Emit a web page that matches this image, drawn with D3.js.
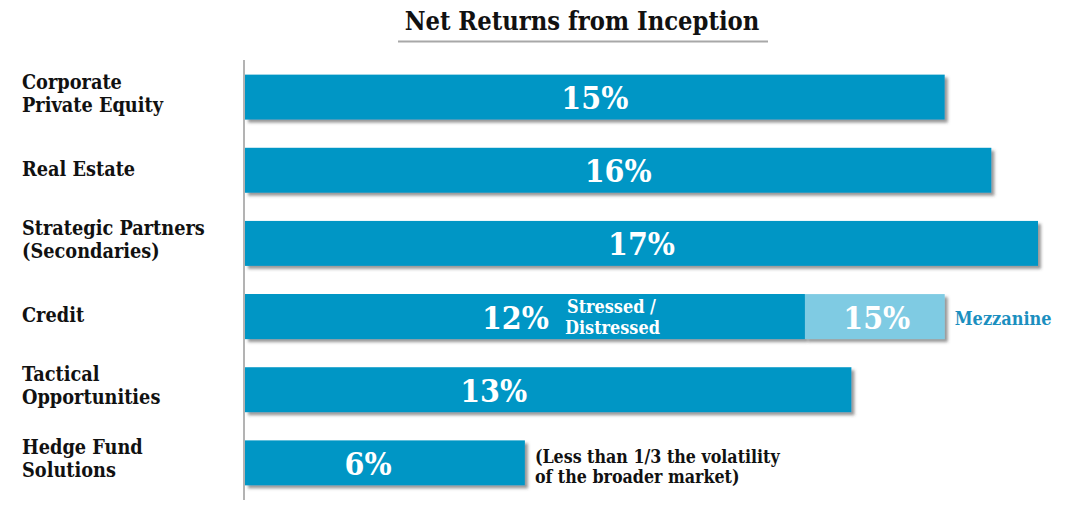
<!DOCTYPE html>
<html><head><meta charset="utf-8">
<script src="https://cdn.jsdelivr.net/npm/d3@7"></script>
<style>html,body{margin:0;padding:0;background:#fff;}svg{display:block;}</style>
</head><body>
<svg id="chart" width="1076" height="511"></svg>
<script>
// ---- data ----
const title = "Net Returns from Inception";
const categories = [
  ["Corporate", "Private Equity"],
  ["Real Estate"],
  ["Strategic Partners", "(Secondaries)"],
  ["Credit"],
  ["Tactical", "Opportunities"],
  ["Hedge Fund", "Solutions"]
];
const returns = [15, 16, 17, 12, 13, 6];          // main bar value (%)
const mezzanineReturn = 15;                        // Credit: mezzanine (%)
const creditLabels = ["Stressed /", "Distressed"];
const mezzanineLabel = "Mezzanine";
const hedgeNote = ["(Less than 1/3 the volatility", "of the broader market)"];

// ---- layout ----
const FONT = "'DejaVu Serif Condensed', 'DejaVu Serif', Georgia, serif";
const blue = "#0096c5", lightBlue = "#7fcbe3", mezzBlue = "#1b8fbf";
const labelAt = [0.5, 0.5, 0.5, 0.483, 0.41, 0.44]; // fraction of bar length for value label centre

const svg = d3.select("#chart");
const keys = categories.map((c, i) => i);
const x = d3.scaleLinear().domain([0, 17]).range([245, 1038]);
const y = d3.scaleBand().domain(keys).range([60, 500]).paddingInner(0.385).paddingOuter(0.2);

const defs = svg.append("defs");
const f = defs.append("filter").attr("id", "sh").attr("x", "-5%").attr("y", "-20%").attr("width", "115%").attr("height", "150%");
f.append("feDropShadow").attr("dx", 3).attr("dy", 3).attr("stdDeviation", 1.6)
  .attr("flood-color", "#444").attr("flood-opacity", 0.55);

function fit(sel, target) {
  const w = sel.node().getComputedTextLength();
  const fs = parseFloat(sel.attr("font-size"));
  sel.attr("font-size", fs * target / w);
  return fs * target / w;
}

// title
const t = svg.append("text").attr("x", 582).attr("y", 30).attr("text-anchor", "middle")
  .attr("font-family", FONT).attr("font-weight", "bold").attr("font-size", 24).attr("fill", "#111").text(title);
fit(t, 355);
svg.append("line").attr("x1", 398).attr("x2", 768).attr("y1", 41.5).attr("y2", 41.5)
  .attr("stroke", "#a8a8a8").attr("stroke-width", 2);

// axis
svg.append("line").attr("x1", 244).attr("x2", 244).attr("y1", 60).attr("y2", 500)
  .attr("stroke", "#9a9a9a").attr("stroke-width", 1.5);

// category font size fitted on a reference line
const probe = svg.append("text").attr("font-family", FONT).attr("font-weight", "bold").attr("font-size", 18).text("Strategic Partners");
const catFS = fit(probe, 183);
probe.remove();

// bars
const g = svg.append("g");
g.selectAll("rect.main").data(returns).join("rect").attr("class", "main")
  .attr("x", x(0)).attr("y", (d, i) => y(i)).attr("width", d => x(d) - x(0)).attr("height", y.bandwidth())
  .attr("fill", blue).attr("filter", "url(#sh)");
// credit mezzanine extension
const ci = 3;
g.append("rect").attr("x", x(returns[ci])).attr("y", y(ci)).attr("width", x(mezzanineReturn) - x(returns[ci]))
  .attr("height", y.bandwidth()).attr("fill", lightBlue).attr("filter", "url(#sh)");
g.append("rect").attr("x", x(0)).attr("y", y(ci)).attr("width", x(returns[ci]) - x(0))
  .attr("height", y.bandwidth()).attr("fill", blue);

// category labels
svg.selectAll("text.cat").data(categories).join("text").attr("class", "cat")
  .attr("font-family", FONT).attr("font-weight", "bold").attr("font-size", catFS).attr("fill", "#111")
  .each(function(lines, i) {
    const c = y(i) + y.bandwidth() / 2;
    const base = lines.length === 1 ? c + 5.5 : c - 8.5;
    d3.select(this).selectAll("tspan").data(lines).join("tspan")
      .attr("x", 22).attr("y", (l, j) => base + j * 23).text(l => l);
  });

// value labels
const pctProbe = svg.append("text").attr("font-family", FONT).attr("font-weight", "bold").attr("font-size", 30).text("15%");
const pctFS = fit(pctProbe, 67);
pctProbe.remove();
svg.selectAll("text.val").data(returns).join("text").attr("class", "val")
  .attr("x", (d, i) => x(0) + (x(d) - x(0)) * labelAt[i]).attr("y", (d, i) => y(i) + y.bandwidth() / 2 + 12)
  .attr("text-anchor", "middle").attr("font-family", FONT).attr("font-weight", "bold")
  .attr("font-size", pctFS).attr("fill", "#fff").text(d => d + "%");
svg.append("text").attr("x", (x(returns[ci]) + x(mezzanineReturn)) / 2 + 2).attr("y", y(ci) + y.bandwidth() / 2 + 12)
  .attr("text-anchor", "middle").attr("font-family", FONT).attr("font-weight", "bold")
  .attr("font-size", pctFS).attr("fill", "#fff").text(mezzanineReturn + "%");

// credit sub labels
const cc = y(ci) + y.bandwidth() / 2;
const st = svg.append("text").attr("font-family", FONT).attr("font-weight", "bold").attr("font-size", 16).attr("fill", "#fff");
st.selectAll("tspan").data(creditLabels).join("tspan").attr("x", (d, j) => j ? 565 : 567)
  .attr("y", (d, j) => cc - 4 + j * 21).text(d => d);
const stp = svg.append("text").attr("font-family", FONT).attr("font-weight", "bold").attr("font-size", 16).text(creditLabels[1]);
const stFS = fit(stp, 95); stp.remove(); st.attr("font-size", stFS);

const mz = svg.append("text").attr("x", x(mezzanineReturn) + 10).attr("y", cc + 8.5)
  .attr("font-family", FONT).attr("font-weight", "bold").attr("font-size", 16).attr("fill", mezzBlue).text(mezzanineLabel);
fit(mz, 97);

// hedge note
const hi = 5, hc = y(hi) + y.bandwidth() / 2;
const hn = svg.append("text").attr("font-family", FONT).attr("font-weight", "bold").attr("font-size", 17).attr("fill", "#111");
hn.selectAll("tspan").data(hedgeNote).join("tspan").attr("x", x(returns[hi]) + 10)
  .attr("y", (d, j) => hc + 0 + j * 20).text(d => d);
const hp = svg.append("text").attr("font-family", FONT).attr("font-weight", "bold").attr("font-size", 17).text(hedgeNote[0]);
const hFS = fit(hp, 245); hp.remove(); hn.attr("font-size", hFS);
</script>
</body></html>
